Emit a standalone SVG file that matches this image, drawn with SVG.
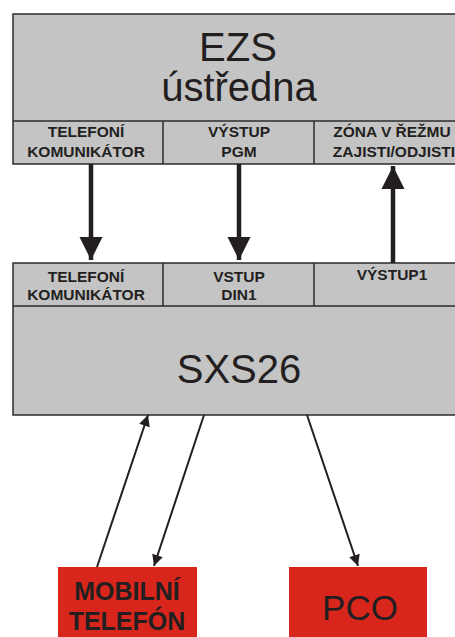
<svg xmlns="http://www.w3.org/2000/svg" width="455" height="637" viewBox="0 0 455 637">
<style>
.box{fill:#c4c4c4;stroke:#2b2b2b;stroke-width:1.5}
.red{fill:#d9261c}
.t{font-family:"Liberation Sans",Arial,sans-serif;fill:#231f20;text-anchor:middle}
.big{font-size:40px}
.sm{font-size:15.5px;font-weight:bold}
.thick{stroke:#231f20;stroke-width:4.5;fill:none}
.thin{stroke:#231f20;stroke-width:2;fill:none}
</style>
<defs>
<marker id="ah" viewBox="0 0 10 10" refX="10" refY="5" markerWidth="5.2" markerHeight="5.2" markerUnits="strokeWidth" orient="auto">
<path d="M0,0 L10,5 L0,10 z" fill="#231f20"/>
</marker>
<marker id="as" viewBox="0 0 10 10" refX="10" refY="5" markerWidth="6.5" markerHeight="5.5" markerUnits="strokeWidth" orient="auto">
<path d="M0,0 L10,5 L0,10 z" fill="#231f20"/>
</marker>
</defs>
<g id="ezs">
<rect class="box" x="13" y="14" width="452" height="150"/>
<line x1="13" y1="121" x2="465" y2="121" stroke="#2b2b2b" stroke-width="1.5"/>
<line x1="163" y1="121" x2="163" y2="164" stroke="#2b2b2b" stroke-width="1.5"/>
<line x1="314" y1="121" x2="314" y2="164" stroke="#2b2b2b" stroke-width="1.5"/>
<text class="t big" x="238" y="61">EZS</text>
<text class="t big" x="239" y="101">ústředna</text>
<text class="t sm" x="86" y="137">TELEFONÍ</text>
<text class="t sm" x="86" y="157">KOMUNIKÁTOR</text>
<text class="t sm" x="239" y="137">VÝSTUP</text>
<text class="t sm" x="239" y="157">PGM</text>
<text class="t sm" x="392" y="137">ZÓNA V ŘEŽMU</text>
<text class="t sm" x="394" y="157">ZAJISTI/ODJISTI</text>
</g>
<g id="sxs26">
<rect class="box" x="13" y="263" width="452" height="152"/>
<line x1="13" y1="306" x2="465" y2="306" stroke="#2b2b2b" stroke-width="1.5"/>
<line x1="163" y1="263" x2="163" y2="306" stroke="#2b2b2b" stroke-width="1.5"/>
<line x1="314" y1="263" x2="314" y2="306" stroke="#2b2b2b" stroke-width="1.5"/>
<text class="t sm" x="86" y="282">TELEFONÍ</text>
<text class="t sm" x="86" y="300">KOMUNIKÁTOR</text>
<text class="t sm" x="239" y="282">VSTUP</text>
<text class="t sm" x="239" y="300">DIN1</text>
<text class="t sm" x="392" y="280">VÝSTUP1</text>
<text class="t big" x="239" y="383">SXS26</text>
</g>
<g id="mobil">
<rect class="red" x="58" y="567" width="139" height="75"/>
<text class="t" x="127" y="600" font-size="25" font-weight="bold">MOBILNÍ</text>
<text class="t" x="127" y="630" font-size="25" font-weight="bold">TELEFÓN</text>
</g>
<g id="pco">
<rect class="red" x="289" y="567" width="138" height="75"/>
<text class="t" x="360" y="620" font-size="35">PCO</text>
</g>
<g id="connectors">
<line class="thick" x1="91" y1="164" x2="91" y2="260" marker-end="url(#ah)"/>
<line class="thick" x1="239" y1="164" x2="239" y2="260" marker-end="url(#ah)"/>
<line class="thick" x1="393" y1="263" x2="393" y2="166" marker-end="url(#ah)"/>
<line class="thin" x1="97" y1="567" x2="148" y2="415" marker-end="url(#as)"/>
<line class="thin" x1="204" y1="415" x2="154" y2="566" marker-end="url(#as)"/>
<line class="thin" x1="307" y1="415" x2="358" y2="566" marker-end="url(#as)"/>
</g>
</svg>
